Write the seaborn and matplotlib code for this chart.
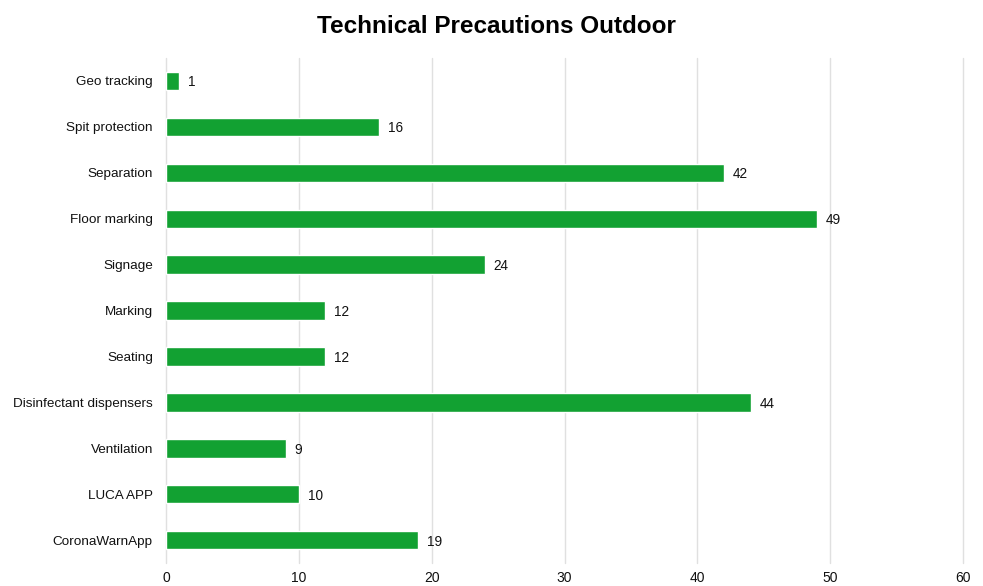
import pandas as pd
import seaborn as sns
import matplotlib.pyplot as plt

# Data
categories = ["Geo tracking", "Spit protection", "Separation", "Floor marking", "Signage",
              "Marking", "Seating", "Disinfectant dispensers", "Ventilation", "LUCA APP",
              "CoronaWarnApp"]
counts = [1, 16, 42, 49, 24, 12, 12, 44, 9, 10, 19]
x_ticks = [0, 10, 20, 30, 40, 50, 60]

df = pd.DataFrame({"category": categories, "count": counts})

sns.set_style("white")
plt.rcParams["font.family"] = ["Liberation Sans", "DejaVu Sans"]

fig = plt.figure(figsize=(9.83, 5.86), dpi=100)
ax = fig.add_axes([0.1689, 0.039, 0.8108, 0.862])

sns.barplot(data=df, x="count", y="category", color="#12a132", width=0.4,
            saturation=1, ax=ax, zorder=3)

for i, v in enumerate(counts):
    ax.annotate(str(v), (v, i), xytext=(6.5, 0), textcoords="offset points",
                va="center_baseline", ha="left", fontsize=9.8, color="#111111")

ax.set_xlim(0, 60)
ax.set_ylim(10.5, -0.5)
ax.set_xticks(x_ticks)
ax.grid(axis="x", color="#e0e0e0", linewidth=1, zorder=0)
ax.grid(axis="y", visible=False)
for gl in ax.get_xgridlines():
    gl.set_clip_on(False)
for s in ax.spines.values():
    s.set_visible(False)
ax.tick_params(axis="x", length=0, pad=6, labelsize=10, labelcolor="#111111")
ax.tick_params(axis="y", length=0, pad=9.5, labelsize=9.7, labelcolor="#111111")
ax.set_xlabel("")
ax.set_ylabel("")

fig.suptitle("Technical Precautions Outdoor", x=0.505, y=0.975, fontsize=17.5,
             fontweight="bold", va="top", color="black")

plt.savefig("out.png", dpi=100)
